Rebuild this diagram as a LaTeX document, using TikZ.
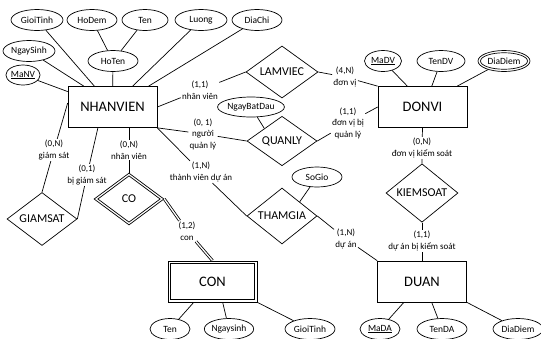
\documentclass[tikz,border=0pt]{standalone}
\usepackage{fontspec}
\setmainfont{Carlito}
\usetikzlibrary{shapes.geometric,calc}
\begin{document}
\begin{tikzpicture}[x=1pt,y=-1pt,line width=0.7pt,
  ent/.style={draw,minimum width=89pt,minimum height=41pt,inner sep=0pt,font=\fontsize{14.5}{16}\selectfont},
  inner/.style={draw,inner sep=0pt},
  attr/.style={draw,ellipse,inner sep=0pt,minimum height=21pt,font=\fontsize{9.5}{11}\selectfont},
  rel/.style={draw,diamond,inner sep=0pt,font=\fontsize{12}{14}\selectfont},
  lbl/.style={align=center,inner sep=1pt,font=\fontsize{9}{11.5}\selectfont},
  dbl/.style={double,double distance=1.3pt,line width=0.8pt}]
\useasboundingbox (0,0) rectangle (541,338);
\clip (0,0) rectangle (541,338);
% entities
\node[ent] (nv) at (112.5,107) {NHANVIEN};
\node[ent] (donvi) at (422.5,107) {DONVI};
\node[ent] (duan) at (422,281.5) {DUAN};
\node[ent] (con) at (212.5,281.5) {CON};
\node[inner,minimum width=84pt,minimum height=36pt] (coninner) at (con) {};
% attributes of NHANVIEN
\node[attr,minimum width=52pt] (gioitinh) at (37,20) {GioiTinh};
\node[attr,minimum width=50pt] (hodem) at (92,20) {HoDem};
\node[attr,minimum width=46pt] (ten) at (145,20) {Ten};
\node[attr,minimum width=52pt] (luong) at (201,20) {Luong};
\node[attr,minimum width=50pt] (diachi) at (257,20) {DiaChi};
\node[attr,minimum width=52pt] (ngaysinh) at (29,51) {NgaySinh};
\node[attr,minimum width=50pt] (hoten) at (113,61) {HoTen};
\node[attr,minimum width=32pt,minimum height=20pt] (manv) at (23,75) {\underline{MaNV}};
% attributes of DONVI
\node[attr,minimum width=37pt] (madv) at (383,61) {\underline{MaDV}};
\node[attr,minimum width=48pt] (tendv) at (441,61) {TenDV};
\node[attr,minimum width=52pt] (diadiem) at (504,61) {DiaDiem};
\node[draw,ellipse,inner sep=0pt,minimum width=47pt,minimum height=16.5pt] (diadieminner) at (diadiem) {};
% relation attributes
\node[attr,minimum width=66pt,minimum height=20pt] (nbd) at (251,107) {NgayBatDau};
\node[attr,minimum width=50pt,minimum height=20pt] (sogio) at (317,177) {SoGio};
% attributes of CON
\node[attr,minimum width=40pt] (tencon) at (170,329) {Ten};
\node[attr,minimum width=44pt] (nscon) at (229,329) {Ngaysinh};
\node[attr,minimum width=50pt] (gtcon) at (310,329) {GioiTinh};
% attributes of DUAN
\node[attr,minimum width=40pt] (mada) at (380,329) {\underline{MaDA}};
\node[attr,minimum width=50pt] (tenda) at (442,329) {TenDA};
\node[attr,minimum width=50pt] (diadiemda) at (518,329) {DiaDiem};
% relationships
\node[rel,minimum width=72pt,minimum height=40pt] (lamviec) at (282,72) {LAMVIEC};
\node[rel,minimum width=70pt,minimum height=46pt] (quanly) at (282,141) {QUANLY};
\node[rel,minimum width=70pt,minimum height=42pt] (thamgia) at (282,216) {THAMGIA};
\node[rel,minimum width=72pt,minimum height=52pt] (kiemsoat) at (422,193) {KIEMSOAT};
\node[rel,minimum width=70pt,minimum height=52pt] (giamsat) at (42,219) {GIAMSAT};
\node[rel,minimum width=70pt,minimum height=52pt] (co) at (129,199) {CO};
\node[draw,diamond,inner sep=0pt,minimum width=62.5pt,minimum height=46.5pt] (coinner) at (co) {};
% labels
\node[lbl] (l1) at (200,90) {(1,1)\\nhân viên};
\node[lbl] (l2) at (345,77) {(4,N)\\đơn vị};
\node[lbl] (l3) at (203,134) {(0, 1)\\người\\quản lý};
\node[lbl] (l4) at (348,123) {(1,1)\\đơn vị bị\\quản lý};
\node[lbl] (l5) at (201,172) {(1,N)\\thành viên dự án};
\node[lbl] (l6) at (346,239) {(1,N)\\dự án};
\node[lbl] (l7) at (422,148) {(0,N)\\đơn vị kiểm soát};
\node[lbl] (l8) at (422,241) {(1,1)\\dự án bị kiểm soát};
\node[lbl] (l9) at (54,150) {(0,N)\\giám sát};
\node[lbl] (l10) at (87,175) {(0,1)\\bị giám sát};
\node[lbl] (l11) at (129,150) {(0,N)\\nhân viên};
\node[lbl] (l12) at (187,231) {(1,2)\\con};
% attribute connectors
\draw (gioitinh) -- (nv.131);
\draw (hodem) -- (hoten);
\draw (ten) -- (hoten);
\draw (hoten) -- (nv);
\draw (luong) -- (nv.46);
\draw (diachi) -- (nv.30);
\draw (ngaysinh) -- (nv.144);
\draw (manv) -- (nv.161);
\draw (madv) -- (donvi.126);
\draw (tendv) -- (donvi.66);
\draw (diadiem) -- (donvi.31);
\draw (nbd) -- (quanly.north west);
\draw (sogio) -- (thamgia.north east);
\draw (tencon) -- (con.-132);
\draw (nscon) -- (con.-64);
\draw (gtcon) -- (con.south east);
\draw (mada) -- (duan.-131);
\draw (tenda) -- (duan.-65);
\draw (diadiemda) -- (duan.south east);
% relationship connectors
\draw (nv.east) -- (l1) -- (lamviec.west);
\draw (lamviec.east) -- (l2) -- (donvi.north west);
\draw (nv.south east) -- (l3) -- (quanly.west);
\draw (quanly.east) -- (l4) -- (donvi.west);
\draw (nv.south east) -- (l5) -- (thamgia.west);
\draw (thamgia.east) -- (l6) -- (duan.north west);
\draw (donvi.south) -- (l7) -- (kiemsoat.north);
\draw (kiemsoat.south) -- (l8) -- (duan.north);
\draw (nv.175) -- (l9) -- (giamsat.north);
\draw (nv.-125) -- (l10) -- (giamsat.east);
\draw (co.north |- nv.south) -- (l11) -- (co.north);
\draw[dbl] (co.east) -- (l12) -- (con.north);
\end{tikzpicture}
\end{document}
